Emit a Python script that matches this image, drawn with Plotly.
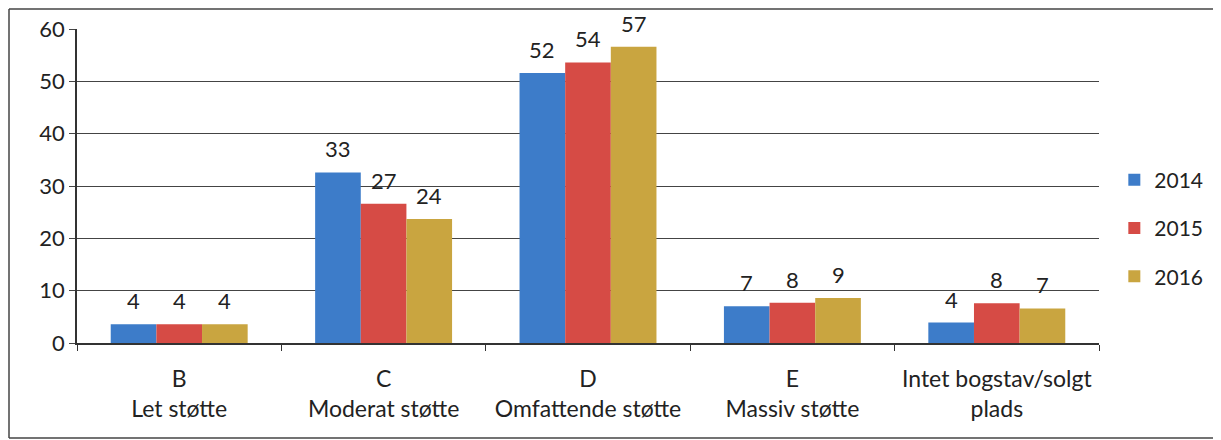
import plotly.graph_objects as go

categories = ["B<br>Let støtte", "C<br>Moderat støtte", "D<br>Omfattende støtte",
              "E<br>Massiv støtte", "Intet bogstav/solgt<br>plads"]
series_names = ["2014", "2015", "2016"]
values_2014 = [3.6, 32.6, 51.6, 7.0, 3.9]
values_2015 = [3.6, 26.6, 53.6, 7.7, 7.6]
values_2016 = [3.6, 23.7, 56.6, 8.6, 6.6]
colors = ["#3d7cc9", "#d64b45", "#c9a540"]
y_ticks = [0, 10, 20, 30, 40, 50, 60]

font_family = "Lato, 'Open Sans', sans-serif"

# figure geometry (page body adds an 8px margin)
W, H = 1213, 432
ML, MR, MT, MB = 69, 122, 21, 97
BARGAP = 0.33
plot_w = W - ML - MR
plot_h = H - MT - MB
cat_w = plot_w / len(categories)
bar_w = cat_w * (1 - BARGAP) / len(series_names)

fig = go.Figure()
all_vals = [values_2014, values_2015, values_2016]
for i, (name, vals) in enumerate(zip(series_names, all_vals)):
    fig.add_trace(go.Bar(
        x=categories, y=vals, name=name, marker_color=colors[i],
        marker_line_width=0, legendgroup=name,
    ))
    offset = (i - (len(series_names) - 1) / 2) * bar_w
    for c, v in zip(categories, vals):
        fig.add_annotation(
            x=c, y=v, text=f"{v:.0f}", showarrow=False,
            xref="x", yref="y", xanchor="center", yanchor="bottom",
            xshift=offset, yshift=9, borderpad=0,
            font=dict(size=22, color="#222", family=font_family),
        )

# frame around the chart (left, top, bottom edges)
fx0 = (1 - ML) / plot_w
fx1 = (W - ML) / plot_w
fy0 = -(H - 2 - (H - MB)) / plot_h
fy1 = 1 + (MT - 1) / plot_h
frame_line = dict(color="#444", width=1.5)
shapes = [
    dict(type="line", xref="paper", yref="paper", x0=fx0, x1=fx0, y0=fy0, y1=fy1, line=frame_line),
    dict(type="line", xref="paper", yref="paper", x0=fx0, x1=fx1, y0=fy1, y1=fy1, line=frame_line),
    dict(type="line", xref="paper", yref="paper", x0=fx0, x1=fx1, y0=fy0, y1=fy0, line=frame_line),
]

fig.update_layout(
    width=W, height=H,
    margin=dict(l=ML, r=MR, t=MT, b=MB),
    paper_bgcolor="white", plot_bgcolor="white",
    barmode="group", bargap=BARGAP, bargroupgap=0,
    font=dict(family=font_family, size=22, color="#222"),
    legend=dict(x=1.015, y=0.366, xanchor="left", yanchor="middle",
                font=dict(size=21, color="#222"), tracegroupgap=18,
                itemwidth=30),
    showlegend=True,
    shapes=shapes,
)
fig.update_xaxes(
    showline=True, linecolor="#333", linewidth=1.5,
    ticks="outside", tickson="boundaries", ticklen=6, tickcolor="#333",
    tickfont=dict(size=23, color="#222"), ticklabelstandoff=15,
    automargin=False,
)
fig.update_yaxes(
    range=[0, 60], tickvals=y_ticks,
    showline=True, linecolor="#333", linewidth=1.5,
    showgrid=True, gridcolor="#444", gridwidth=1.2,
    ticks="outside", ticklen=6, tickcolor="#444",
    tickfont=dict(size=22, color="#222"), zeroline=False,
    automargin=False,
)

fig.write_html("out.html")
